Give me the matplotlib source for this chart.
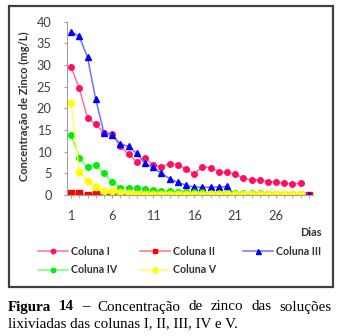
import numpy as np
import matplotlib
matplotlib.use("Agg")
import matplotlib.pyplot as plt
from matplotlib.patches import Rectangle

days = list(range(1, 31))
col_I = [29.5, 24.6, 17.8, 16.3, 14.4, 14.1, 11.2, 9.5, 7.7, 8.5, 6.9, 6.5, 7.2, 7.0, 6.0,
         4.9, 6.5, 6.3, 5.4, 5.2, 4.8, 3.9, 3.5, 3.5, 3.1, 2.9, 2.8, 2.6, 2.7, None]
col_II = [0.4, 0.4, 0.0, 0.3, 0.1, 0.1, 0.3, 0.1, 0.0, 0.0, 0.2, 0.1, 0.0, 0.0, 0.0,
          0.0, 0.0, 0.0, 0.0, 0.0, 0.0, 0.0, 0.1, 0.0, 0.0, 0.0, 0.0, 0.0, 0.0, 0.0]
col_III = [37.7, 36.6, 31.8, 22.1, 14.4, 13.9, 11.8, 11.2, 9.6, 7.3, 6.4, 5.0, 3.8, 2.9, 2.3,
           1.8, 1.8, 1.8, 1.8, 2.0, 0.0, 0.0, 0.0, 0.0, 0.0, 0.0, 0.0, 0.0, 0.0, 0.0]
col_IV = [13.9, 8.6, 6.4, 6.9, 5.0, 3.1, 1.7, 1.7, 1.7, 1.3, 1.2, 1.0, 0.9, 0.8, 0.7,
          0.6, 0.6, 0.5, 0.5, 0.5, 0.4, 0.4, 0.4, 0.4, 0.3, 0.3, 0.3, 0.3, 0.3, None]
col_V = [21.3, 5.4, 3.3, 1.8, 1.0, 1.0, 0.6, 0.4, 0.3, 0.3, 0.3, 0.3, 0.3, 0.3, 0.3,
         0.3, 0.3, 0.3, 0.3, 0.3, 0.3, 0.3, 0.3, 0.3, 0.3, 0.3, 0.3, 0.3, 0.3, None]
series_names = ["Coluna I", "Coluna II", "Coluna III", "Coluna IV", "Coluna V"]
xtick_days = [1, 6, 11, 16, 21, 26]
ytick_vals = [0, 5, 10, 15, 20, 25, 30, 35, 40]

def arr(v):
    return np.array([np.nan if x is None else x for x in v], dtype=float)

W, H = 343, 336
fig = plt.figure(figsize=(W / 100, H / 100), dpi=100)
fig.patch.set_facecolor("white")

# outer chart border
fig.patches.append(Rectangle((9 / W, 1 - 287 / H), (333 - 9) / W, (287 - 6) / H,
                             transform=fig.transFigure, fill=False,
                             edgecolor="#404040", lw=1.6))

ax = fig.add_axes([67 / W, 1 - 195 / H, (313 - 67) / W, (195 - 21.7) / H])
ax.set_xlim(0.5, 30.5)
ax.set_ylim(0, 40)

styles = [
    dict(color="#FF6F9F", marker="o", mfc="#FF1060", mec="#FF1060", ms=4.0),
    dict(color="#FF7070", marker="s", mfc="#FF0000", mec="#FF0000", ms=3.8),
    dict(color="#7070FF", marker="^", mfc="#0000FF", mec="#0000FF", ms=4.5),
    dict(color="#70FF70", marker="o", mfc="#00EE00", mec="#00EE00", ms=4.0),
    dict(color="#FFFF60", marker="o", mfc="#FFFF00", mec="#FFFF00", ms=4.6),
]
handles = []
for name, vals, st in zip(series_names, [col_I, col_II, col_III, col_IV, col_V], styles):
    h, = ax.plot(days, arr(vals), lw=1.1, label=name, **st)
    handles.append(h)

for s in ["top", "right"]:
    ax.spines[s].set_visible(False)
for s in ["left", "bottom"]:
    ax.spines[s].set_color("#A0A0A0")
    ax.spines[s].set_linewidth(0.8)

ax.set_yticks(ytick_vals)
ax.set_xticks(xtick_days)
ax.set_xticks(days, minor=True)
ax.tick_params(axis="both", which="both", direction="out", length=2.5,
               color="#A0A0A0", labelcolor="#404040")
ax.tick_params(axis="y", pad=8.6)
ax.tick_params(axis="x", pad=8.0)
for lbl in ax.get_xticklabels() + ax.get_yticklabels():
    lbl.set_fontfamily("Lato")
    lbl.set_fontsize(9.2)

fig.text(24 / W, 1 - 106 / H, "Concentração de Zinco (mg/L)", rotation=90,
         ha="center", va="center", family="Lato", weight="bold", size=8.0,
         color="#303030")
fig.text(322 / W, 1 - 233 / H, "Dias", ha="right", va="center", family="Lato",
         weight="bold", size=7.9, color="#303030")

# legend: three columns placed like the original (row-major order)
fs_leg = 7.7
columns = [([0, 3], 38), ([1, 4], 140), ([2], 243)]
for idx, xpx in columns:
    leg = fig.legend([handles[i] for i in idx], [series_names[i] for i in idx],
                     ncol=1, loc="upper left", bbox_to_anchor=(xpx / W, 1 - 246 / H),
                     frameon=False, handlelength=29.5 / (fs_leg * 100 / 72),
                     handletextpad=0.3, labelspacing=0.68, markerscale=0.8,
                     prop=dict(family="Lato", weight="bold", size=fs_leg),
                     borderaxespad=0, borderpad=0)
    for t in leg.get_texts():
        t.set_color("#303030")

# caption, first line justified
renderer = fig.canvas.get_renderer()
cap_size = 10.8
words = [("Figura", "bold"), ("14", "bold"), ("–", "bold"), ("Concentração", "normal"),
         ("de", "normal"), ("zinco", "normal"), ("das", "normal"), ("soluções", "normal")]
x0, x1 = 7.5, 332
y1 = 1 - 310.5 / H
texts = []
widths = []
for w, wt in words:
    t = fig.text(0, y1, w, family="Liberation Serif", weight=wt, size=cap_size,
                 va="baseline", ha="left", color="black")
    bb = t.get_window_extent(renderer)
    texts.append(t)
    widths.append(bb.width)
gap = (x1 - x0 - sum(widths)) / (len(words) - 1)
x = x0
for t, wdt in zip(texts, widths):
    t.set_x(x / W)
    x += wdt + gap
fig.text(x0 / W, 1 - 327 / H, "lixiviadas das colunas I, II, III, IV e V.",
         family="Liberation Serif", size=cap_size, va="baseline", ha="left", color="black")

fig.savefig("out.png", dpi=100, facecolor="white")
